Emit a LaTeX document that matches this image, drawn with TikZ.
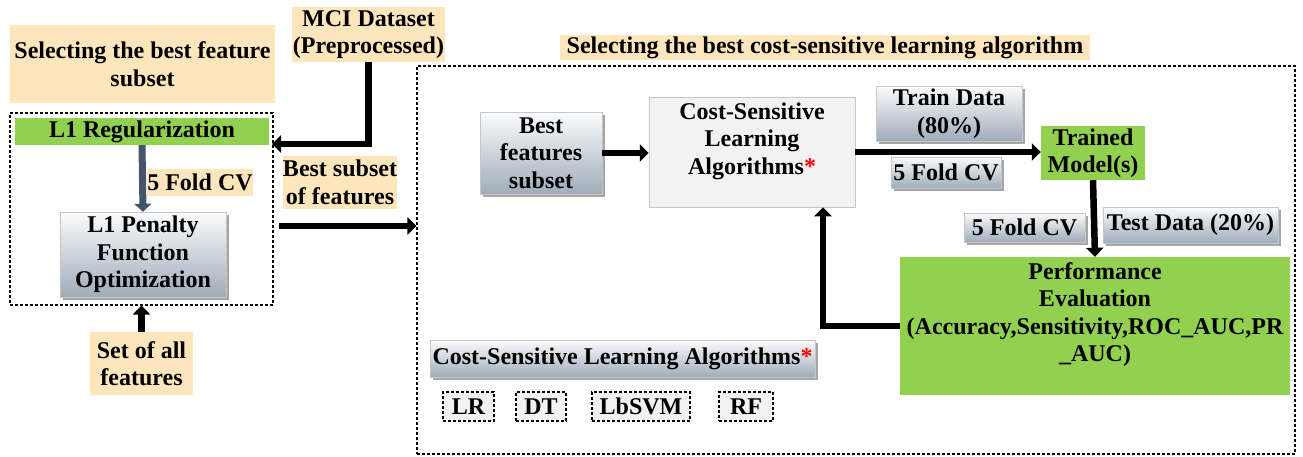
\documentclass[tikz,border=0pt]{standalone}
\usepackage{fontspec}
\setmainfont{Liberation Serif}
\usetikzlibrary{arrows.meta,shadows}
\definecolor{tanbg}{HTML}{FDE6BB}
\definecolor{grn}{HTML}{92D050}
\definecolor{gtop}{HTML}{FBFCFD}
\definecolor{gmid}{HTML}{D8DEE4}
\definecolor{gbot}{HTML}{9EACBA}
\definecolor{slate}{HTML}{44546A}
\definecolor{lgray}{HTML}{F2F2F2}
\begin{document}
\begin{tikzpicture}[x=1pt,y=-1pt,
  font=\fontsize{24}{27.5}\selectfont\bfseries,
  tanlbl/.style={fill=tanbg, inner sep=0pt, align=center},
  gradbox/.style={top color=gtop, middle color=gmid, bottom color=gbot,
    draw=gray!45, line width=0.5pt, inner sep=0pt, align=center,
    drop shadow={shadow xshift=3pt, shadow yshift=-3pt, fill=black, opacity=0.35}},
  greenbox/.style={fill=grn, inner sep=0pt, align=center},
  dbox/.style={draw, line width=1.1pt, dash pattern=on 3pt off 2pt},
  smallbox/.style={dbox, fill=lgray, inner sep=0pt},
  arr/.style={line width=6.5pt, -{Triangle[length=9pt,width=17pt]}}
]
\useasboundingbox (0,0) rectangle (1303,456);

% ---- left part ----
\node[tanlbl, minimum width=265, minimum height=78] (selfeat) at (142.5,64) {Selecting the best feature\\subset};
\node[tanlbl, minimum width=153, minimum height=55] (mci) at (368.5,34.5) {MCI Dataset\\(Preprocessed)};
\node[dbox, minimum width=263, minimum height=192] (leftbox) at (141.5,209) {};
\node[greenbox, minimum width=254, minimum height=27] (l1reg) at (142,131.5) {L1 Regularization};
\node[tanlbl, minimum width=106, minimum height=27] (fold1) at (200,182.5) {5 Fold CV};
\node[gradbox, minimum width=166, minimum height=85] (pen) at (143,254.5) {L1 Penalty\\Function\\Optimization};
\node[tanlbl, minimum width=103, minimum height=63] (setall) at (141.5,363.5) {Set of all\\features};
\node[tanlbl, minimum width=114, minimum height=53] (bestsub) at (340,182.5) {Best subset\\of features};

% ---- right part ----
\node[dbox, minimum width=878, minimum height=388] (rightbox) at (856,260) {};
\node[tanlbl, minimum width=530, minimum height=25] (selcost) at (825,47.5) {Selecting the best cost-sensitive learning algorithm};
\node[gradbox, minimum width=122, minimum height=82] (bfs) at (541,153) {Best\\features\\subset};
\node[fill=lgray, draw=gray!45, line width=0.5pt, inner sep=0pt, align=center,
      minimum width=206, minimum height=110] (csla) at (752,152)
      {Cost-Sensitive\\Learning\\Algorithms{\color{red}*}\\\mbox{}};
\node[gradbox, minimum width=146, minimum height=55] (train) at (949,113.5) {Train Data\\(80\%)};
\node[gradbox, minimum width=110, minimum height=31] (fold2) at (946,172.5) {5 Fold CV};
\node[greenbox, minimum width=104, minimum height=54] (trained) at (1093,153) {Trained\\Model(s)};
\node[gradbox, minimum width=121, minimum height=29] (fold3) at (1024.5,227.5) {5 Fold CV};
\node[gradbox, minimum width=175, minimum height=36] (test) at (1190.5,225) {Test Data (20\%)};
\node[greenbox, minimum width=390, minimum height=138] (perf) at (1095,326)
      {Performance\\Evaluation\\(Accuracy,Sensitivity,ROC\_AUC,PR\\\_AUC)\\\mbox{}};
\node[gradbox, minimum width=385, minimum height=37] (csbar) at (622.5,358.5) {Cost-Sensitive Learning Algorithms{\color{red}*}};
\node[smallbox, minimum width=51, minimum height=29] (lr) at (468.5,406.5) {LR};
\node[smallbox, minimum width=50, minimum height=29] (dt) at (541,406.5) {DT};
\node[smallbox, minimum width=98, minimum height=29] (svm) at (641,406.5) {LbSVM};
\node[smallbox, minimum width=54, minimum height=29] (rf) at (746,406.5) {RF};

% ---- connectors ----
\coordinate (mcitip) at (272,144);
\coordinate (bsstart) at (279,226);
\coordinate (retx) at (823,0);

\draw[arr] (mci.south) |- (mcitip);
\draw[line width=7pt, color=slate, -{Triangle[length=8pt,width=17pt]}] (l1reg.south) -- (pen.north);
\draw[arr] (setall.north) -- (leftbox.south);
\draw[arr] (bsstart) -- (bsstart -| rightbox.west);
\draw[arr] (bfs.east) -- (bfs.east -| csla.west);
\draw[arr] (csla.east) -- (csla.east -| trained.west);
\draw[arr] (trained.south) -- (perf.north);
\draw[arr] (perf.west) -| (retx |- csla.south);
\end{tikzpicture}
\end{document}
